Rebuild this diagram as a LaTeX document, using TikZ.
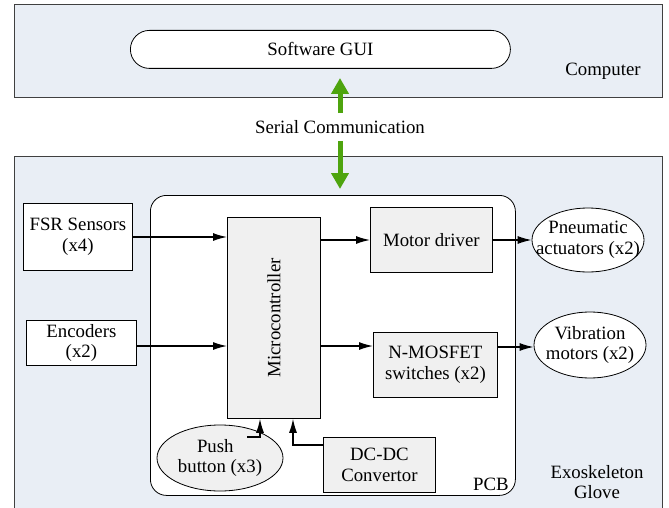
\documentclass[tikz,border=0pt]{standalone}
\usepackage{fontspec}
\setmainfont{Liberation Serif}
\usetikzlibrary{shapes.geometric,arrows.meta}
\definecolor{panel}{HTML}{E9EEF5}
\definecolor{boxgray}{HTML}{F0F0F0}
\definecolor{arrowgreen}{HTML}{4EA40E}
\begin{document}
\begin{tikzpicture}[x=1pt,y=-1pt,
 every node/.style={font=\rmfamily\fontsize{18.8}{20.5}\selectfont, align=center, inner sep=0pt},
 panelbox/.style={draw=black!75, fill=panel, line width=0.8pt, anchor=north west},
 plainbox/.style={draw, fill=white, line width=0.8pt, anchor=north west},
 graybox/.style={draw, fill=boxgray, line width=0.8pt, anchor=north west},
 oval/.style={draw, ellipse, line width=0.8pt},
 conn/.style={-{Latex[length=14pt,width=8pt]}, line width=1.3pt},
 greenarrow/.style={-{Triangle[length=16pt,width=17pt]}, line width=5pt, draw=arrowgreen}]
\useasboundingbox (0,0) rectangle (669,508);
% panels
\node[panelbox, minimum width=648pt, minimum height=93pt] (computer) at (14,4) {};
\node[panelbox, minimum width=648pt, minimum height=360pt] (glove) at (14,156) {};
\node[draw, fill=white, line width=0.8pt, rounded corners=19pt, anchor=north west,
      minimum width=380pt, minimum height=38pt] (gui) at (130,30) {};
\node at (gui.center) {Software GUI};
\node at (603,71) {Computer};
\node[draw, fill=white, line width=0.8pt, rounded corners=16pt, anchor=north west,
      minimum width=365pt, minimum height=300pt] (pcb) at (150,195) {};
\node at (491,484) {PCB};
\node at (597,482) {Exoskeleton\\Glove};
% serial link
\node[inner ysep=7pt] (serial) at (340,127) {Serial Communication};
\coordinate (gtop) at (340,78);
\coordinate (gbot) at (340,189);
\draw[greenarrow] (serial.north) -- (gtop);
\draw[greenarrow] (serial.south) -- (gbot);
% inputs
\node[plainbox, minimum width=109pt, minimum height=67pt] (fsr) at (23,203) {};
\node at (fsr.center) {FSR Sensors\\(x4)};
\node[plainbox, minimum width=110pt, minimum height=45pt] (enc) at (26,320) {};
\node at (enc.center) {Encoders\\(x2)};
% PCB content
\node[graybox, minimum width=93pt, minimum height=201pt] (mcu) at (227,217) {};
\node[rotate=90] at (mcu.center) {Microcontroller};
\node[graybox, minimum width=122pt, minimum height=65pt] (motor) at (370,207) {};
\node at (motor.center) {Motor driver};
\node[graybox, minimum width=124pt, minimum height=65pt] (mosfet) at (373,332) {};
\node at (mosfet.center) {N-MOSFET\\switches (x2)};
\node[graybox, minimum width=112pt, minimum height=55pt] (dcdc) at (323,437) {};
\node at (dcdc.center) {DC-DC\\Convertor};
\node[oval, fill=boxgray, minimum width=126pt, minimum height=66pt] (push) at (220,458) {};
\node at (push.center) {Push\phantom{\ \ }\\button (x3)};
% outputs
\node[oval, fill=white, minimum width=112pt, minimum height=64pt] (pneu) at (588,240) {};
\node at (pneu.center) {Pneumatic\\actuators (x2)};
\node[oval, fill=white, minimum width=112pt, minimum height=66pt] (vib) at (590,345) {};
\node at (vib.center) {Vibration\\motors (x2)};
% connectors
\draw[conn] (fsr.east |- 0,237) -- (mcu.west |- 0,237);
\draw[conn] (enc.east |- 0,346) -- (mcu.west |- 0,346);
\draw[conn] (mcu.east |- 0,240) -- (motor.west |- 0,240);
\draw[conn] (mcu.east |- 0,346) -- (mosfet.west |- 0,346);
\draw[conn] (motor.east |- 0,240) -- (pneu.west |- 0,240);
\draw[conn] (mosfet.east |- 0,347) -- (vib.west |- 0,347);
\coordinate (pushout) at (247,437);
\draw[conn] (pushout) -- (260,437) -- (mcu.south -| 260,0);
\draw[conn] (dcdc.west |- 0,445) -- (293,445) -- (mcu.south -| 293,0);
\end{tikzpicture}
\end{document}
